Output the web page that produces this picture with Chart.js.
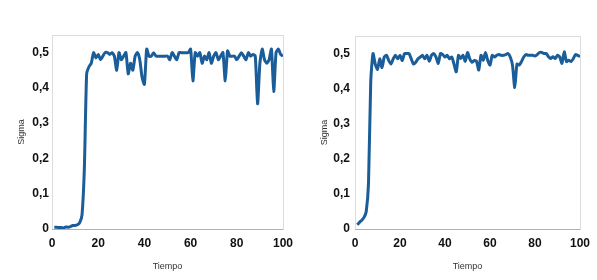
<!DOCTYPE html>
<html lang="es">
<head>
    <meta charset="UTF-8">
    <title>Sigma vs Tiempo</title>
    <script src="https://cdn.jsdelivr.net/npm/chart.js"></script>
    <style>
        body{margin:0;background:#fff;width:597px;height:280px;position:relative;overflow:hidden;}
        .box{position:absolute;top:0;height:280px;}
    </style>
</head>
<body>
    <div class="box" style="left:0;width:300px;"><canvas id="chartA"></canvas></div>
    <div class="box" style="left:300px;width:297px;"><canvas id="chartB"></canvas></div>
    <script>
        const tiempo=[1,2,3,4,5,6,7,8,9,10,11,12,13,14,15,16,17,18,19,20,
            21,22,23,24,25,26,27,28,29,30,31,32,33,34,35,36,37,38,39,40,
            41,42,43,44,45,46,47,48,49,50,51,52,53,54,55,56,57,58,59,60,
            61,62,63,64,65,66,67,68,69,70,71,72,73,74,75,76,77,78,79,80,
            81,82,83,84,85,86,87,88,89,90,91,92,93,94,95,96,97,98,99,100];
        const sigmaA=[0.005,0.005,0.004,0.004,0.003,0.006,0.005,0.007,0.01,0.01,
            0.012,0.018,0.04,0.17,0.44,0.46,0.47,0.5,0.485,0.495,
            0.48,0.49,0.5,0.5,0.495,0.5,0.49,0.45,0.5,0.48,
            0.49,0.5,0.44,0.47,0.45,0.49,0.5,0.48,0.43,0.41,
            0.51,0.49,0.49,0.5,0.49,0.49,0.49,0.49,0.49,0.49,
            0.48,0.5,0.49,0.48,0.5,0.5,0.5,0.5,0.5,0.51,
            0.42,0.5,0.49,0.5,0.47,0.49,0.48,0.5,0.47,0.49,
            0.5,0.48,0.49,0.5,0.42,0.505,0.49,0.49,0.49,0.48,
            0.49,0.5,0.49,0.48,0.5,0.49,0.495,0.49,0.355,0.47,
            0.51,0.48,0.47,0.48,0.51,0.39,0.5,0.51,0.495,0.49];
        const sigmaB=[0.012,0.019,0.025,0.033,0.05,0.13,0.42,0.5,0.47,0.455,
            0.485,0.46,0.49,0.495,0.48,0.47,0.485,0.495,0.485,0.495,
            0.48,0.5,0.5,0.5,0.485,0.47,0.475,0.485,0.49,0.495,
            0.485,0.495,0.478,0.495,0.5,0.49,0.472,0.5,0.497,0.49,
            0.495,0.485,0.49,0.47,0.448,0.495,0.486,0.495,0.478,0.503,
            0.485,0.475,0.48,0.478,0.453,0.495,0.481,0.503,0.48,0.467,
            0.495,0.49,0.495,0.497,0.495,0.495,0.497,0.5,0.49,0.467,
            0.403,0.47,0.467,0.477,0.49,0.497,0.495,0.495,0.495,0.493,
            0.497,0.503,0.503,0.5,0.5,0.491,0.486,0.491,0.486,0.495,
            0.49,0.472,0.505,0.477,0.481,0.477,0.485,0.497,0.495,0.491];
        const xTicks=[0,20,40,60,80,100];
        const yTicks=[0,0.1,0.2,0.3,0.4,0.5];

        // light frame around the plot area
        const frame={
            id:'frame',
            afterDraw(chart){
                const a=chart.chartArea, c=chart.ctx;
                c.save();
                c.strokeStyle='#dcdcdc';
                c.lineWidth=1;
                c.strokeRect(a.left+0.5,a.top+0.5,a.right-a.left,a.bottom-a.top);
                c.strokeStyle='#b0b0b0';
                c.beginPath();c.moveTo(a.left,a.bottom+0.5);c.lineTo(a.right,a.bottom+0.5);c.stroke();
                c.restore();
            }
        };

        function makeChart(id,values,o){
            const tickFont={family:'Liberation Sans, Arial, sans-serif',size:12,weight:'bold'};
            const titleFont={family:'Liberation Sans, Arial, sans-serif',size:9};
            new Chart(document.getElementById(id),{
                type:'line',
                data:{
                    labels:tiempo,
                    datasets:[{
                        data:values.map((v,i)=>({x:tiempo[i],y:v})),
                        borderColor:'#1a5d98',
                        borderWidth:3,
                        pointRadius:0,
                        tension:0.2,
                        fill:false
                    }]
                },
                plugins:[frame],
                options:{
                    responsive:false,
                    animation:false,
                    layout:{padding:{left:0,right:o.padRight,top:o.padTop,bottom:0}},
                    plugins:{legend:{display:false},tooltip:{enabled:false}},
                    scales:{
                        x:{
                            type:'linear',min:0,max:100,
                            afterBuildTicks:s=>{s.ticks=xTicks.map(v=>({value:v}));},
                            afterFit:s=>{s.height=51;},
                            grid:{display:false,drawTicks:false},
                            border:{display:false},
                            ticks:{color:'#111',font:tickFont,padding:7,maxRotation:0},
                            title:{display:true,text:'Tiempo',color:'#333',font:titleFont,padding:{top:0,bottom:8.5}}
                        },
                        y:{
                            min:0,max:0.55,
                            afterBuildTicks:s=>{s.ticks=yTicks.map(v=>({value:v}));},
                            afterFit:s=>{s.width=o.yWidth;},
                            grid:{display:false,drawTicks:false},
                            border:{display:false},
                            ticks:{color:'#111',font:tickFont,padding:o.tickPad,
                                callback:v=>v===0?'0':v.toFixed(1).replace('.',',')},
                            title:{display:true,text:'Sigma',color:'#333',font:titleFont,padding:{top:o.titlePad,bottom:0}}
                        }
                    }
                }
            });
        }

        const cA=document.getElementById('chartA'); cA.width=300; cA.height=280;
        const cB=document.getElementById('chartB'); cB.width=297; cB.height=280;
        makeChart('chartA',sigmaA,{yWidth:52,padRight:17,padTop:35,tickPad:3,titlePad:16.5});
        makeChart('chartB',sigmaB,{yWidth:55,padRight:11,padTop:36,tickPad:5,titlePad:19.5});
    </script>
</body>
</html>
